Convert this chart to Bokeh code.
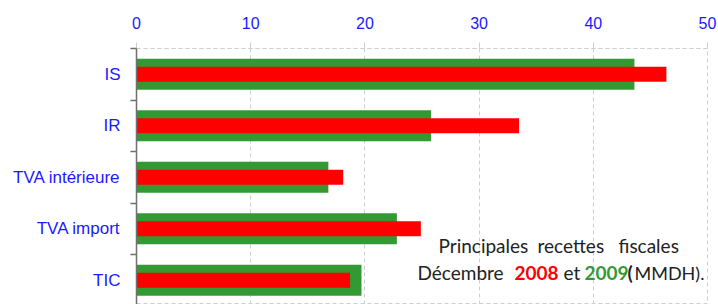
from bokeh.plotting import figure
from bokeh.models import Range1d, FixedTicker, Label, ColumnDataSource
from bokeh.embed import file_html
from bokeh.resources import INLINE

categories = ["IS", "IR", "TVA intérieure", "TVA import", "TIC"]
recettes_2009 = [43.6, 25.8, 16.8, 22.8, 19.7]
recettes_2008 = [46.4, 33.5, 18.1, 24.9, 18.7]
x_ticks = [0, 10, 20, 30, 40, 50]

GREEN = "#339933"
RED = "#ff0000"
BLUE = "#1a1aff"
GRID = "#c8d2cf"

pos = [i + 0.5 for i in range(len(categories))]
src = ColumnDataSource(dict(y=pos, cat=categories, v08=recettes_2008, v09=recettes_2009))

p = figure(width=718, height=304, output_backend="svg", toolbar_location=None,
           x_range=Range1d(0, 50), y_range=Range1d(4.97, 0),
           x_axis_location="above", min_border_left=136, min_border_right=11,
           min_border_top=48, min_border_bottom=0)
p.background_fill_color = "white"
p.border_fill_color = "white"
p.outline_line_color = GRID
p.outline_line_dash = "4 3"

p.hbar(y="y", right="v09", left=0, height=0.6, source=src, color=GREEN, line_color=None)
p.hbar(y="y", right="v08", left=0, height=0.29, source=src, color=RED, line_color=None)

# grid
p.ygrid.visible = False
p.xgrid.grid_line_color = GRID
p.xgrid.grid_line_dash = "4 3"
p.xgrid.grid_line_width = 1

# top axis
xa = p.xaxis[0]
xa.ticker = FixedTicker(ticks=x_ticks)
xa.axis_line_color = GRID
xa.axis_line_dash = "4 3"
xa.major_tick_line_color = GRID
xa.major_tick_out = 6
xa.major_tick_in = 0
xa.minor_tick_line_color = None
xa.major_label_text_color = BLUE
xa.major_label_text_font = "Liberation Sans"
xa.major_label_text_font_size = "16px"
xa.major_label_standoff = 14

# left axis
ya = p.yaxis[0]
ya.ticker = FixedTicker(ticks=pos, minor_ticks=list(range(len(categories) + 1)))
ya.major_label_overrides = {pv: c for pv, c in zip(pos, categories)}
ya.axis_line_color = "#707070"
ya.axis_line_width = 1.5
ya.major_tick_line_color = None
ya.major_tick_out = 0
ya.major_tick_in = 0
ya.minor_tick_line_color = "#707070"
ya.minor_tick_line_width = 1.5
ya.minor_tick_out = 6
ya.minor_tick_in = 0
ya.major_label_text_color = BLUE
ya.major_label_text_font = "Liberation Sans"
ya.major_label_text_font_size = "17px"
ya.major_label_standoff = 10

FONT = "Lato"
FS = "19px"
DARK = "#222222"
line1 = [
    (302, "Principales"),
    (401, "recettes"),
    (482, "fiscales"),
]
for x, t in line1:
    p.add_layout(Label(x=x, y=59, x_units="screen", y_units="screen", text=t,
                       text_align="left", text_baseline="middle", text_font=FONT,
                       text_font_size=FS, text_color=DARK))
parts = [
    (281, "Décembre", DARK, "normal", "19px"),
    (378, "2008", RED, "bold", "19px"),
    (427, "et", DARK, "normal", "19px"),
    (448, "2009", GREEN, "bold", "19px"),
    (491, "(", DARK, "bold", "19px"),
    (498, "MMDH).", DARK, "normal", "18px"),
]
for x, t, c, w, fs in parts:
    p.add_layout(Label(x=x, y=32, x_units="screen", y_units="screen", text=t,
                       text_align="left", text_baseline="middle", text_font=FONT,
                       text_font_size=fs, text_color=c, text_font_style=w))

open("out.html", "w").write(file_html(p, INLINE))
